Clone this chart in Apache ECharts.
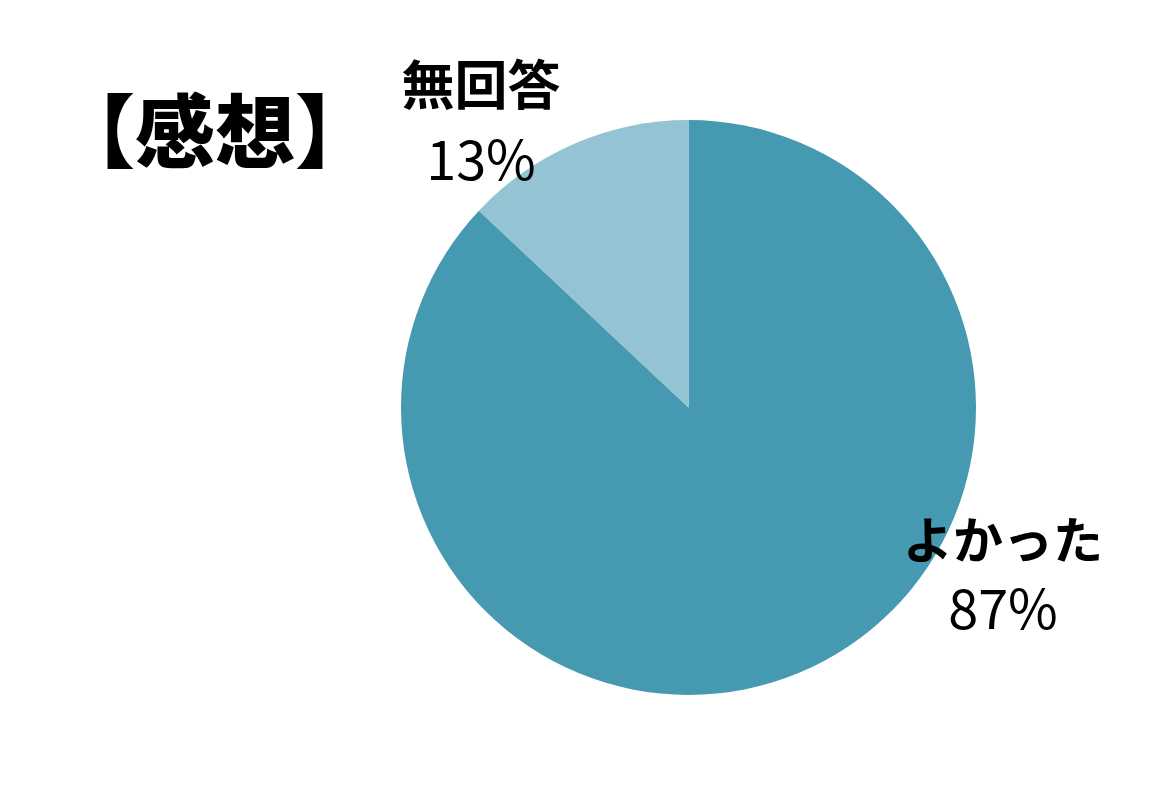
<!DOCTYPE html>
<html>
<head>
<meta charset="utf-8">
<script src="https://cdn.jsdelivr.net/npm/echarts@6/dist/echarts.min.js"></script>
<style>
  html, body { margin: 0; padding: 0; background: #fff; }
  #chart { width: 1166px; height: 788px; }
</style>
</head>
<body>
<div id="chart"></div>
<script>
// Survey responses: impressions
const categories = ['よかった', '無回答'];
const shares = [87, 13];
const sliceColors = ['#4599B1', '#94C3D3'];
// where each label block sits [x, y], its line spacing and name size
const labelSpots = [[1003, 574, 68, 50], [481, 122, 75, 53]];

const FONT = '"Noto Sans CJK JP", "Noto Sans", sans-serif';

const chart = echarts.init(document.getElementById('chart'));

chart.setOption({
  animation: false,
  backgroundColor: '#ffffff',
  title: {
    text: '【感想】',
    left: 50,
    top: 86,
    textStyle: {
      fontFamily: FONT,
      fontWeight: 900,
      fontSize: 80,
      color: '#000'
    }
  },
  series: [{
    type: 'pie',
    center: [688.5, 407.5],
    radius: 287.5,
    startAngle: 90,
    clockwise: true,
    labelLine: { show: false },
    itemStyle: { borderWidth: 0 },
    emphasis: { disabled: true },
    data: categories.map((name, i) => ({
      name,
      value: shares[i],
      itemStyle: { color: sliceColors[i] },
      label: {
        show: true,
        position: 'outside',
        formatter: '{n|{b}}\n{p|{c}%}',
        rich: {
          n: {
            fontFamily: FONT,
            fontWeight: 'bold',
            fontSize: labelSpots[i][3],
            color: '#000',
            lineHeight: labelSpots[i][2],
            align: 'center'
          },
          p: {
            fontFamily: FONT,
            fontWeight: 'normal',
            fontSize: 54,
            color: '#000',
            lineHeight: labelSpots[i][2],
            align: 'center'
          }
        }
      }
    })),
    labelLayout: function (params) {
      const spot = labelSpots[params.dataIndex];
      return { x: spot[0], y: spot[1], align: 'center', verticalAlign: 'middle' };
    }
  }]
});
</script>
</body>
</html>
